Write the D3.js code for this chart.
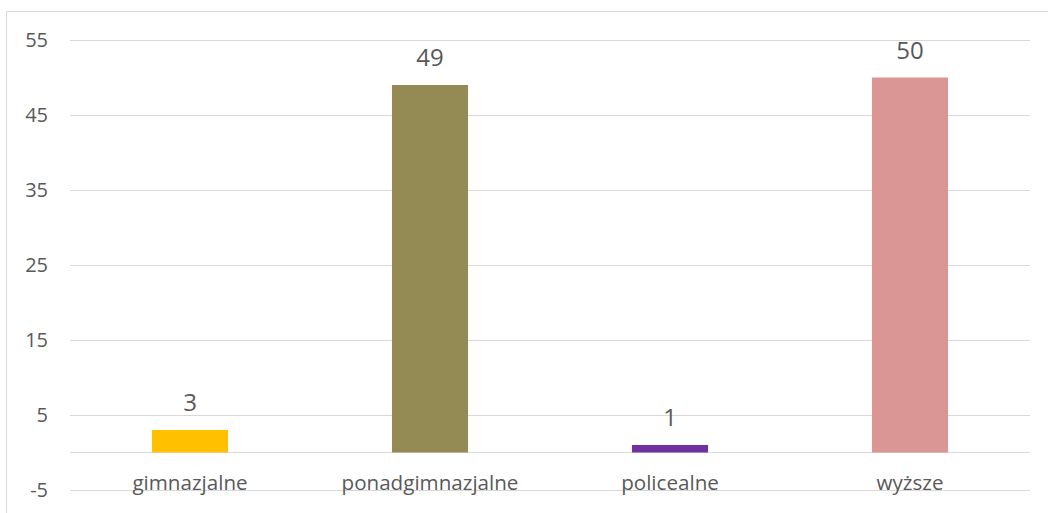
<!DOCTYPE html>
<html><head><meta charset="utf-8">
<script src="https://cdn.jsdelivr.net/npm/d3@7"></script>
<style>body{margin:0;background:#fff}svg{display:block}text{font-family:"Open Sans",sans-serif;fill:#595959}</style>
</head><body><svg id="c" width="1048" height="513"></svg>
<script>
const categories = ["gimnazjalne","ponadgimnazjalne","policealne","wyższe"];
const values = [3,49,1,50];
const colors = ["#FFC000","#948A54","#7030A0","#D99694"];
const yTicks = [-5,5,15,25,35,45,55];

const svg = d3.select("#c");
const m = {left:70, right:1030, top:40, bottom:490};
const x = d3.scaleBand().domain(categories).range([m.left,m.right]).paddingInner(0.683).paddingOuter(0.3415);
const y = d3.scaleLinear().domain([-5,55]).range([m.bottom,m.top]);

svg.append("rect").attr("x",6.5).attr("y",11.5).attr("width",1100).attr("height",600)
  .attr("fill","none").attr("stroke","#d9d9d9");

const grid = svg.append("g");
grid.selectAll("line").data(yTicks.concat([0])).join("line")
  .attr("x1",m.left).attr("x2",m.right)
  .attr("y1",d=>Math.round(y(d))+0.5).attr("y2",d=>Math.round(y(d))+0.5)
  .attr("stroke","#d9d9d9").attr("stroke-width",1);

const yAxis = d3.axisLeft(y).tickValues(yTicks).tickSize(0).tickPadding(0).tickFormat(d=>String(d));
const ga = svg.append("g").attr("transform","translate(48,0)").call(yAxis);
ga.select(".domain").remove();
ga.selectAll("text").style("font-size","20px").style("font-family","'Open Sans',sans-serif").attr("fill","#595959");

svg.append("g").selectAll("rect").data(values).join("rect")
  .attr("x",(d,i)=>x(categories[i])).attr("width",x.bandwidth())
  .attr("y",d=>y(Math.max(d,0))).attr("height",d=>Math.abs(y(d)-y(0)))
  .attr("fill",(d,i)=>colors[i]);

svg.append("g").selectAll("text").data(values).join("text")
  .attr("x",(d,i)=>x(categories[i])+x.bandwidth()/2)
  .attr("y",d=>y(d)-19).attr("text-anchor","middle")
  .style("font-size","24px").text(d=>d);

const xAxis = d3.axisBottom(x).tickSize(0).tickPadding(0);
const gx = svg.append("g").attr("transform",`translate(0,${y(-5)-15})`).call(xAxis);
gx.select(".domain").remove();
gx.selectAll("text").style("font-size","20.6px").style("font-family","'Open Sans',sans-serif").attr("fill","#595959");
</script></body></html>
